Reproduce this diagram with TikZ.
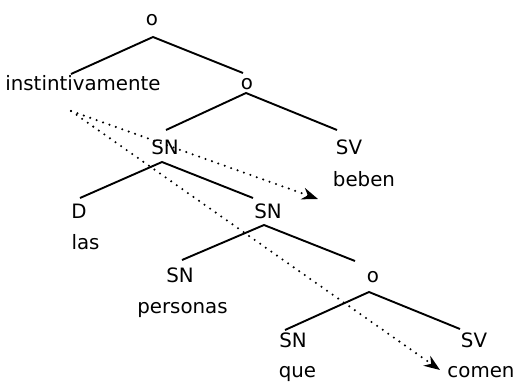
\documentclass[tikz,border=0pt]{standalone}
\usepackage{fontspec}
\setmainfont{DejaVu Sans}
\usetikzlibrary{arrows.meta}
\begin{document}
\begin{tikzpicture}[x=1pt,y=-1pt,
  lbl/.style={anchor=base, inner sep=0pt, font=\fontsize{19.8}{22}\selectfont},
  branch/.style={line width=1.9pt},
  trace/.style={line width=2.3pt, dash pattern=on 0pt off 6.8pt, line cap=round,
    -{Stealth[length=16pt,width=12pt,line cap=butt]}}]
\useasboundingbox (0,0) rectangle (515,381);
% labels
\node[lbl] (o1) at (152,25) {o};
\node[lbl] (inst) at (83,90) {instintivamente};
\node[lbl] (o2) at (247,89) {o};
\node[lbl] (sn1) at (165,154) {SN};
\node[lbl] (sv1) at (349,154) {SV};
\node[lbl] (beben) at (364,186) {beben};
\node[lbl] (d) at (79,218) {D};
\node[lbl] (las) at (85.5,249) {las};
\node[lbl] (sn2) at (268,218) {SN};
\node[lbl] (sn3) at (180,282) {SN};
\node[lbl] (personas) at (182.5,313) {personas};
\node[lbl] (o3) at (373,282) {o};
\node[lbl] (sn4) at (293,347) {SN};
\node[lbl] (que) at (297.5,377) {que};
\node[lbl] (sv2) at (474,347) {SV};
\node[lbl] (comen) at (481,377) {comen};
% branch points
\coordinate (o1b) at (153,37);
\coordinate (instt) at (71,74);
\coordinate (o2t) at (243,73);
\coordinate (o2b) at (246,93);
\coordinate (sn1t) at (166,130);
\coordinate (sv1t) at (337,130);
\coordinate (sn1b) at (162,162);
\coordinate (dt) at (80,198);
\coordinate (sn2t) at (253,198);
\coordinate (sn2b) at (264,225);
\coordinate (sn3t) at (182,260);
\coordinate (o3t) at (355,261);
\coordinate (o3b) at (369,292);
\coordinate (sn4t) at (285,330);
\coordinate (sv2t) at (460,329);
% trace ends
\coordinate (src) at (71,111);
\coordinate (tgt1) at (318,199);
\coordinate (tgt2) at (440,370);
\draw[branch] (instt) -- (o1b) -- (o2t);
\draw[branch] (sn1t) -- (o2b) -- (sv1t);
\draw[branch] (dt) -- (sn1b) -- (sn2t);
\draw[branch] (sn3t) -- (sn2b) -- (o3t);
\draw[branch] (sn4t) -- (o3b) -- (sv2t);
\draw[trace] (src) -- (tgt1);
\draw[trace] (src) -- (tgt2);
\end{tikzpicture}
\end{document}
